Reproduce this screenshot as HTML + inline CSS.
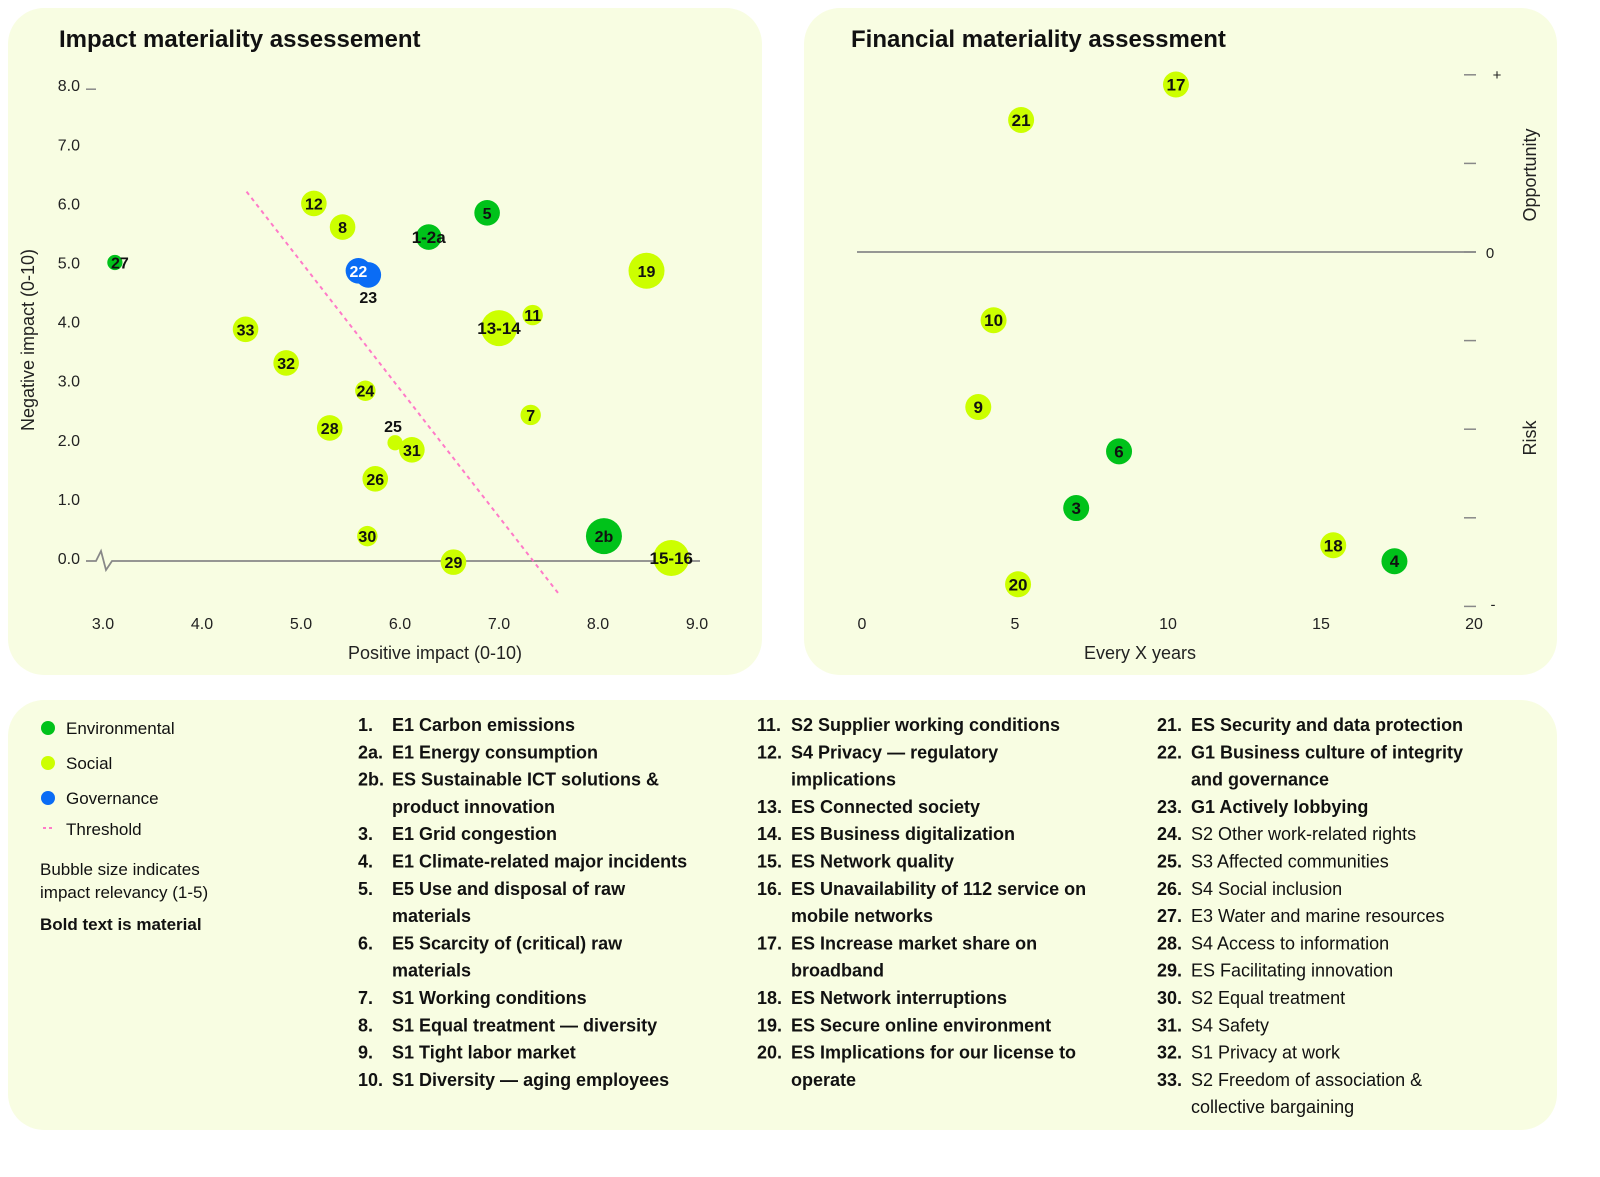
<!DOCTYPE html>
<html><head><meta charset="utf-8"><style>
html,body{margin:0;padding:0;background:#fff;}
svg{display:block;font-family:"Liberation Sans",sans-serif;}
</style></head><body>
<svg id="root" width="1600" height="1177" viewBox="0 0 1600 1177" xmlns="http://www.w3.org/2000/svg">
<rect x="8" y="8" width="754" height="667" rx="36" fill="#f8fde2"/>
<rect x="804" y="8" width="753" height="667" rx="36" fill="#f8fde2"/>
<rect x="8" y="700" width="1549" height="430" rx="36" fill="#f8fde2"/>
<text x="59" y="47" font-size="24" font-weight="bold" fill="#111">Impact materiality assessement</text>
<text x="851" y="47" font-size="24" font-weight="bold" fill="#111">Financial materiality assessment</text>
<g id="impact"></g>
<g id="fin"></g>
<g id="legend">
<circle cx="48" cy="728" r="7" fill="#00c21a"/>
<text x="66" y="734" font-size="17" fill="#111">Environmental</text>
<circle cx="48" cy="763" r="7" fill="#ccff00"/>
<text x="66" y="769" font-size="17" fill="#111">Social</text>
<circle cx="48" cy="798" r="7" fill="#0a6cf5"/>
<text x="66" y="804" font-size="17" fill="#111">Governance</text>
<line x1="43" y1="828" x2="55" y2="828" stroke="#ff7ac8" stroke-width="2" stroke-dasharray="3,3"/>
<text x="66" y="835" font-size="17" fill="#111">Threshold</text>
<text x="40" y="875" font-size="17" fill="#111">Bubble size indicates</text>
<text x="40" y="898" font-size="17" fill="#111">impact relevancy (1-5)</text>
<text x="40" y="930" font-size="17" font-weight="bold" fill="#111">Bold text is material</text>
</g>
<g id="list"></g>
</svg>
<script>
const NS="http://www.w3.org/2000/svg";
function mk(parent,tag,attrs,txt){const e=document.createElementNS(NS,tag);for(const k in attrs)e.setAttribute(k,attrs[k]);if(txt!==undefined)e.textContent=txt;parent.appendChild(e);return e;}
const COLORS={E:"#00c21a",S:"#ccff00",G:"#0a6cf5"};

// ---- Impact chart data ----
const impLabels=["12","8","1-2a","5","27","23","22","19","33","32","13-14","11","24","7","28","25","31","26","30","29","2b","15-16"];
const impPositive=[5.13,5.42,6.29,6.88,3.12,5.68,5.58,8.49,4.44,4.85,7.0,7.34,5.65,7.32,5.29,5.95,6.12,5.75,5.67,6.54,8.06,8.74];
const impNegative=[6.0,5.6,5.43,5.84,5.0,4.79,4.86,4.86,3.87,3.3,3.89,4.11,2.83,2.42,2.2,1.95,1.83,1.34,0.37,-0.07,0.37,0.0];
const impCategory=["S","S","E","E","E","G","G","S","S","S","S","S","S","S","S","S","S","S","S","S","E","S"];
const impRelevancy=[3,3,3,3,1,3,3,5,3,3,5,2,2,2,3,1,3,3,2,3,5,5];
const impXTicks=[3,4,5,6,7,8,9];
const impYTicks=[0,1,2,3,4,5,6,7,8];
const threshold=[[4.45,6.2],[7.6,-0.6]];

// ---- Financial chart data ----
const finLabels=["17","21","10","9","6","3","18","4","20"];
const finYears=[10.26,5.2,4.3,3.8,8.4,7.0,15.4,17.4,5.1];
const finScore=[1.89,1.49,-0.77,-1.75,-2.25,-2.89,-3.31,-3.49,-3.75];
const finCategory=["S","S","S","S","E","E","S","E","S"];
const finXTicks=[0,5,10,15,20];
const finYTicks=[2,1,0,-1,-2,-3,-4];

(function(){
 const g=document.getElementById("impact");
 const X=v=>103+(v-3)*99, Y=v=>558-v*59.1;
 const rad=r=>5+2.6*r;
 impYTicks.forEach(t=>{const e=mk(g,"text",{x:80,y:Y(t)+6,"font-size":16,"text-anchor":"end",fill:"#222"},t.toFixed(1));
  
  });
 const tk=mk(g,"line",{x1:86,y1:Y(8)+4,x2:96,y2:Y(8)+4,stroke:"#888","stroke-width":1.5});
 
 
 impXTicks.forEach(t=>{const e=mk(g,"text",{x:X(t),y:629,"font-size":16,"text-anchor":"middle",fill:"#222"},t.toFixed(1));
  
  });
 const ax=mk(g,"polyline",{points:`86,${Y(0)+3} 96,${Y(0)+3} 101,${Y(0)-7} 106,${Y(0)+12} 112,${Y(0)+3} 700,${Y(0)+3}`,fill:"none",stroke:"#888","stroke-width":1.8});
 
 
 const yt=mk(g,"text",{x:0,y:0,"font-size":18,"text-anchor":"middle",fill:"#222",transform:"translate(34,340) rotate(-90)"},"Negative impact (0-10)");
 
 
 const xt=mk(g,"text",{x:435,y:659,"font-size":18,"text-anchor":"middle",fill:"#222"},"Positive impact (0-10)");
 
 
 const th=mk(g,"line",{x1:X(threshold[0][0]),y1:Y(threshold[0][1]),x2:X(threshold[1][0]),y2:Y(threshold[1][1]),stroke:"#ff7ac8","stroke-width":2,"stroke-dasharray":"4,4"});
 
 
 impLabels.forEach((lab,i)=>{
  const cx=X(impPositive[i]),cy=Y(impNegative[i]),r=rad(impRelevancy[i]);
  const c=mk(g,"circle",{cx,cy,r,fill:COLORS[impCategory[i]]});
  
  
  let lx=cx,ly=cy,fill=impCategory[i]==="G"?"#fff":"#111";
  if(lab==="23"){ly=cy+22;fill="#111";}
  if(lab==="25"){ly=cy-17;lx=cx-2;}
  if(lab==="27"){lx=cx+5;}
  const t=mk(g,"text",{x:lx,y:ly+6,"font-size":lab.length>2?17:16,"font-weight":"bold","text-anchor":"middle",fill},lab);
  
  
 });
})();

(function(){
 const g=document.getElementById("fin");
 const X=v=>862+v*30.6, Y=v=>252-v*88.6;
 finXTicks.forEach(t=>{const e=mk(g,"text",{x:X(t),y:629,"font-size":16,"text-anchor":"middle",fill:"#222"},String(t));
  
  });
 finYTicks.forEach(t=>{const e=mk(g,"line",{x1:1464,y1:Y(t),x2:1476,y2:Y(t),stroke:"#888","stroke-width":1.5});
  
  });
 const zl=mk(g,"line",{x1:857,y1:Y(0),x2:1476,y2:Y(0),stroke:"#888","stroke-width":1.8});
 
 
 [["+",1497,Y(2)+5],["0",1490,Y(0)+6],["-",1493,Y(-4)+3]].forEach(a=>{const e=mk(g,"text",{x:a[1],y:a[2],"font-size":15,"text-anchor":"middle",fill:"#222"},a[0]);
  
  });
 const o=mk(g,"text",{x:0,y:0,"font-size":18,"text-anchor":"middle",fill:"#222",transform:"translate(1536,175) rotate(-90)"},"Opportunity");
 
 
 const rk=mk(g,"text",{x:0,y:0,"font-size":18,"text-anchor":"middle",fill:"#222",transform:"translate(1536,438) rotate(-90)"},"Risk");
 
 
 const xt=mk(g,"text",{x:1140,y:659,"font-size":18,"text-anchor":"middle",fill:"#222"},"Every X years");
 
 
 finLabels.forEach((lab,i)=>{
  const cx=X(finYears[i]),cy=Y(finScore[i]);
  const c=mk(g,"circle",{cx,cy,r:13,fill:COLORS[finCategory[i]]});
  
  
  const t=mk(g,"text",{x:cx,y:cy+6,"font-size":17,"font-weight":"bold","text-anchor":"middle",fill:"#111"},lab);
  
  
 });
})();

// topic list: [column, row, number, text, bold]
const listRows=[
[0,0,"1.","E1 Carbon emissions",1],[0,1,"2a.","E1 Energy consumption",1],[0,2,"2b.","ES Sustainable ICT solutions &",1],[0,3,"","product innovation",1],
[0,4,"3.","E1 Grid congestion",1],[0,5,"4.","E1 Climate-related major incidents",1],[0,6,"5.","E5 Use and disposal of raw",1],[0,7,"","materials",1],
[0,8,"6.","E5 Scarcity of (critical) raw",1],[0,9,"","materials",1],[0,10,"7.","S1 Working conditions",1],[0,11,"8.","S1 Equal treatment — diversity",1],
[0,12,"9.","S1 Tight labor market",1],[0,13,"10.","S1 Diversity — aging employees",1],
[1,0,"11.","S2 Supplier working conditions",1],[1,1,"12.","S4 Privacy — regulatory",1],[1,2,"","implications",1],[1,3,"13.","ES Connected society",1],
[1,4,"14.","ES Business digitalization",1],[1,5,"15.","ES Network quality",1],[1,6,"16.","ES Unavailability of 112 service on",1],[1,7,"","mobile networks",1],
[1,8,"17.","ES Increase market share on",1],[1,9,"","broadband",1],[1,10,"18.","ES Network interruptions",1],[1,11,"19.","ES Secure online environment",1],
[1,12,"20.","ES Implications for our license to",1],[1,13,"","operate",1],
[2,0,"21.","ES Security and data protection",1],[2,1,"22.","G1 Business culture of integrity",1],[2,2,"","and governance",1],[2,3,"23.","G1 Actively lobbying",1],
[2,4,"24.","S2 Other work-related rights",0],[2,5,"25.","S3 Affected communities",0],[2,6,"26.","S4 Social inclusion",0],[2,7,"27.","E3 Water and marine resources",0],
[2,8,"28.","S4 Access to information",0],[2,9,"29.","ES Facilitating innovation",0],[2,10,"30.","S2 Equal treatment",0],[2,11,"31.","S4 Safety",0],
[2,12,"32.","S1 Privacy at work",0],[2,13,"33.","S2 Freedom of association &",0],[2,14,"","collective bargaining",0]];
(function(){
 const g=document.getElementById("list");
 const colX=[358,757,1157];
 listRows.forEach(r=>{
  const y=731+r[1]*27.3, x=colX[r[0]];
  if(r[2]){const n=mk(g,"text",{x,y,"font-size":18,"font-weight":"bold",fill:"#111"},r[2]);
   
   }
  const t=mk(g,"text",{x:x+34,y,"font-size":18,"font-weight":r[4]?"bold":"normal",fill:"#111"},r[3]);
  
  
 });
})();
</script>
</body></html>
